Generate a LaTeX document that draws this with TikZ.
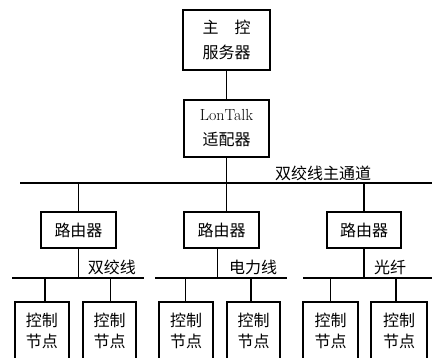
\documentclass[tikz,border=0pt]{standalone}
\usepackage{fontspec}
\newfontfamily\cjk{Noto Sans CJK SC}
\begin{document}
\begin{tikzpicture}[x=1pt,y=-1pt,line width=1.3pt,
  box/.style={draw,line width=1.3pt,inner sep=0pt,align=center,
    font=\cjk\fontsize{16}{25}\selectfont},
  ctrl/.style={box,font=\cjk\fontsize{16}{21.5}\selectfont,minimum height=58pt},
  lbl/.style={inner sep=0pt,font=\cjk\fontsize{16}{20}\selectfont}]
\useasboundingbox (0,0) rectangle (432,358);
\clip (0,0) rectangle (432,358);
% top nodes
\node[box,minimum width=87pt,minimum height=60pt] (srv) at (226.5,40) {主\hspace{1em}控\\服务器};
\node[box,minimum width=85pt,minimum height=57pt] (lt) at (226.5,128.5) {{\rmfamily\fontsize{16}{25}\selectfont LonTalk}\\适配器};
% routers
\node[box,minimum width=75pt,minimum height=36pt] (r1) at (78.5,230) {路由器};
\node[box,minimum width=75pt,minimum height=36pt] (r2) at (221.5,230) {路由器};
\node[box,minimum width=74pt,minimum height=36pt] (r3) at (364,230) {路由器};
% control nodes
\node[ctrl,minimum width=54pt] (c1) at (42,331) {控制\\节点};
\node[ctrl,minimum width=53pt] (c2) at (109.5,331) {控制\\节点};
\node[ctrl,minimum width=54pt] (c3) at (186,331) {控制\\节点};
\node[ctrl,minimum width=53pt] (c4) at (253.5,331) {控制\\节点};
\node[ctrl,minimum width=55pt] (c5) at (330.5,331) {控制\\节点};
\node[ctrl,minimum width=56pt] (c6) at (399,331) {控制\\节点};
% main bus
\coordinate (busL) at (20,183);
\coordinate (busR) at (432,183);
\draw (busL) -- (busR);
\node[lbl] (mainlbl) at (323,173) {双绞线主通道};
\coordinate (b1) at (78.5,183);
\coordinate (b2) at (226.5,183);
\coordinate (b3) at (364,183);
\draw (srv) -- (lt);
\draw (lt) -- (b2);
\draw (b1) -- (r1);
\draw (b2) -- (b2 |- r2.north);
\draw (b3) -- (r3);
% sub buses
\coordinate (s1L) at (12,278); \coordinate (s1R) at (144,278);
\coordinate (s2L) at (155,278); \coordinate (s2R) at (287,278);
\coordinate (s3L) at (303,278); \coordinate (s3R) at (432,278);
\draw (s1L) -- (s1R);
\draw (s2L) -- (s2R);
\draw (s3L) -- (s3R);
\coordinate (t1) at (78.5,278);
\coordinate (t2) at (217.7,278);
\coordinate (t3) at (364,278);
\draw (r1) -- (t1);
\draw (r2.south -| t2) -- (t2);
\draw (r3) -- (t3);
\node[lbl] (l1) at (112,267) {双绞线};
\node[lbl] (l2) at (253,267) {电力线};
\node[lbl] (l3) at (390,267) {光纤};
% drops
\coordinate (d1) at (45,278);
\coordinate (d2) at (110.5,278);
\coordinate (d3) at (185.7,278);
\coordinate (d4) at (251,278);
\coordinate (d5) at (330.5,278);
\coordinate (d6) at (396,278);
\draw (d1) -- (d1 |- c1.north);
\draw (d2) -- (d2 |- c2.north);
\draw (d3) -- (d3 |- c3.north);
\draw (d4) -- (d4 |- c4.north);
\draw (d5) -- (d5 |- c5.north);
\draw (d6) -- (d6 |- c6.north);
\end{tikzpicture}
\end{document}
